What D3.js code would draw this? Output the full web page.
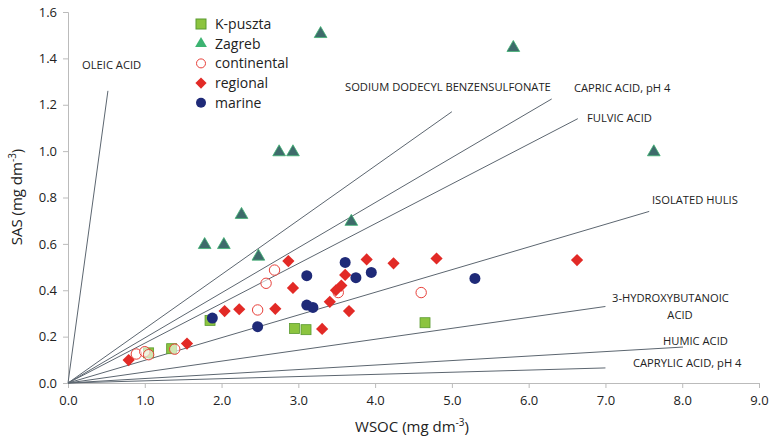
<!DOCTYPE html>
<html>
<head>
<meta charset="utf-8">
<style>
  body { margin: 0; background: #fff; font-family: "Open Sans", sans-serif; }
  text { fill: #222; }
</style>
<script src="https://cdn.jsdelivr.net/npm/d3@7"></script>
</head>
<body>
<svg id="chart" width="770" height="441"></svg>
<script>
// data: [WSOC, SAS]
const kpuszta = [[1.05,0.13],[1.35,0.148],[1.85,0.27],[2.95,0.235],[3.10,0.23],[4.65,0.26]];
const zagreb = [[1.78,0.60],[2.03,0.60],[2.26,0.73],[2.48,0.55],[2.75,1.00],[2.93,1.00],[3.29,1.51],[3.69,0.70],[5.80,1.45],[7.63,1.00]];
const continental = [[0.89,0.125],[1.00,0.135],[1.05,0.122],[1.39,0.146],[2.47,0.315],[2.58,0.43],[2.69,0.487],[3.52,0.39],[4.60,0.39]];
const regional = [[0.79,0.099],[1.55,0.17],[2.04,0.31],[2.23,0.318],[2.70,0.32],[2.87,0.526],[2.93,0.41],[3.31,0.233],[3.41,0.35],[3.49,0.40],[3.56,0.42],[3.61,0.466],[3.66,0.31],[3.89,0.533],[4.24,0.516],[4.80,0.537],[6.63,0.53]];
const marine = [[1.88,0.28],[2.47,0.243],[3.11,0.463],[3.11,0.336],[3.19,0.326],[3.61,0.52],[3.75,0.454],[3.95,0.477],[5.30,0.451]];

// reference lines from the origin (end point in data units)
const refLines = [[0.52, 1.26], [5.0, 1.17], [6.3, 1.225], [6.64, 1.14], [7.57, 0.74], [7.0, 0.33], [8.01, 0.155], [7.0, 0.065]];
// labels for those lines: text, x, baseline y (pixels), anchor
const refLabels = [
  ["OLEIC ACID", 82, 69, "start"],
  ["SODIUM DODECYL BENZENSULFONATE", 345, 91, "start"],
  ["CAPRIC ACID, pH 4", 574, 92, "start"],
  ["FULVIC ACID", 587, 122, "start"],
  ["ISOLATED HULIS", 652, 204, "start"],
  ["3-HYDROXYBUTANOIC", 612, 302, "start"],
  ["ACID", 680, 319, "middle"],
  ["HUMIC ACID", 663, 345, "start"],
  ["CAPRYLIC ACID, pH 4", 633, 367, "start"]
];
const xTicks = d3.range(0, 9.01, 1);
const yTicks = d3.range(0, 1.61, 0.2);

const svg = d3.select("#chart");
const x = d3.scaleLinear().domain([0, 9]).range([68, 759]);
const y = d3.scaleLinear().domain([0, 1.6]).range([383, 12]);

// axes
const xAxis = svg.append("g").attr("transform", `translate(0,${y(0)})`)
  .call(d3.axisBottom(x).tickValues(xTicks).tickFormat(d3.format(".1f")).tickSize(5).tickPadding(8));
const yAxis = svg.append("g").attr("transform", `translate(${x(0)},0)`)
  .call(d3.axisLeft(y).tickValues(yTicks).tickFormat(d3.format(".1f")).tickSize(5).tickPadding(6));
[xAxis, yAxis].forEach(a => {
  a.selectAll("path, line").attr("stroke", "#bbb");
  a.selectAll("text").attr("font-size", 13).attr("fill", "#222").attr("font-family", "Open Sans");
});

// reference lines
const lineG = svg.append("g");
lineG.selectAll("line").data(refLines).join("line")
  .attr("x1", x(0)).attr("y1", y(0))
  .attr("x2", d => x(d[0])).attr("y2", d => y(d[1]))
  .attr("stroke", "#5c6670").attr("stroke-width", 1);
lineG.selectAll("text").data(refLabels).join("text")
  .attr("x", d => d[1]).attr("y", d => d[2]).attr("text-anchor", d => d[3])
  .attr("font-size", 11.2).text(d => d[0]);

// markers
const g = svg.append("g");
const sym = (type, size) => d3.symbol().type(type).size(size)();
g.selectAll(".kp").data(kpuszta).join("rect")
  .attr("x", d => x(d[0]) - 5).attr("y", d => y(d[1]) - 5).attr("width", 10).attr("height", 10)
  .attr("fill", "#8cc43f").attr("stroke", "#5a9a30").attr("stroke-width", 0.8);
g.selectAll(".zg").data(zagreb).join("path")
  .attr("transform", d => `translate(${x(d[0])},${y(d[1]) + 1})`)
  .attr("d", sym(d3.symbolTriangle, 70)).attr("fill", "#3e6b6b").attr("stroke", "#3cb371").attr("stroke-width", 0.8);
g.selectAll(".ct").data(continental).join("circle")
  .attr("cx", d => x(d[0])).attr("cy", d => y(d[1])).attr("r", 5.2)
  .attr("fill", "#fff").attr("fill-opacity", 0.6).attr("stroke", "#e8403a").attr("stroke-width", 1);
g.selectAll(".rg").data(regional).join("path")
  .attr("transform", d => `translate(${x(d[0])},${y(d[1])})`)
  .attr("d", sym(d3.symbolDiamond2, 95)).attr("fill", "#e22a26");
g.selectAll(".mr").data(marine).join("circle")
  .attr("cx", d => x(d[0])).attr("cy", d => y(d[1])).attr("r", 5.5)
  .attr("fill", "#1f2a78");

// legend
const legend = [
  {name: "K-puszta", draw: s => s.append("rect").attr("x", -5).attr("y", -5).attr("width", 10).attr("height", 10).attr("fill", "#8cc43f").attr("stroke", "#5a9a30")},
  {name: "Zagreb", draw: s => s.append("path").attr("d", sym(d3.symbolTriangle, 60)).attr("fill", "#3cb371")},
  {name: "continental", draw: s => s.append("circle").attr("r", 4.5).attr("fill", "none").attr("stroke", "#e8403a")},
  {name: "regional", draw: s => s.append("path").attr("d", sym(d3.symbolDiamond2, 80)).attr("fill", "#e22a26")},
  {name: "marine", draw: s => s.append("circle").attr("r", 5).attr("fill", "#1f2a78")}
];
legend.forEach((d, i) => {
  const row = svg.append("g").attr("transform", `translate(0,${24 + i * 19.7})`);
  d.draw(row.append("g").attr("transform", "translate(201,0)"));
  row.append("text").attr("x", 215).attr("y", 5).attr("font-size", 14).text(d.name);
});

// axis titles
const xt = svg.append("text").attr("x", 412).attr("y", 432).attr("text-anchor", "middle").attr("font-size", 15);
xt.append("tspan").text("WSOC (mg dm");
xt.append("tspan").attr("font-size", 10).attr("dy", -6).text("-3");
xt.append("tspan").attr("dy", 6).text(")");
const yt = svg.append("text").attr("transform", "translate(22,197) rotate(-90)").attr("text-anchor", "middle").attr("font-size", 15);
yt.append("tspan").text("SAS (mg dm");
yt.append("tspan").attr("font-size", 10).attr("dy", -6).text("-3");
yt.append("tspan").attr("dy", 6).text(")");
</script>
</body>
</html>
